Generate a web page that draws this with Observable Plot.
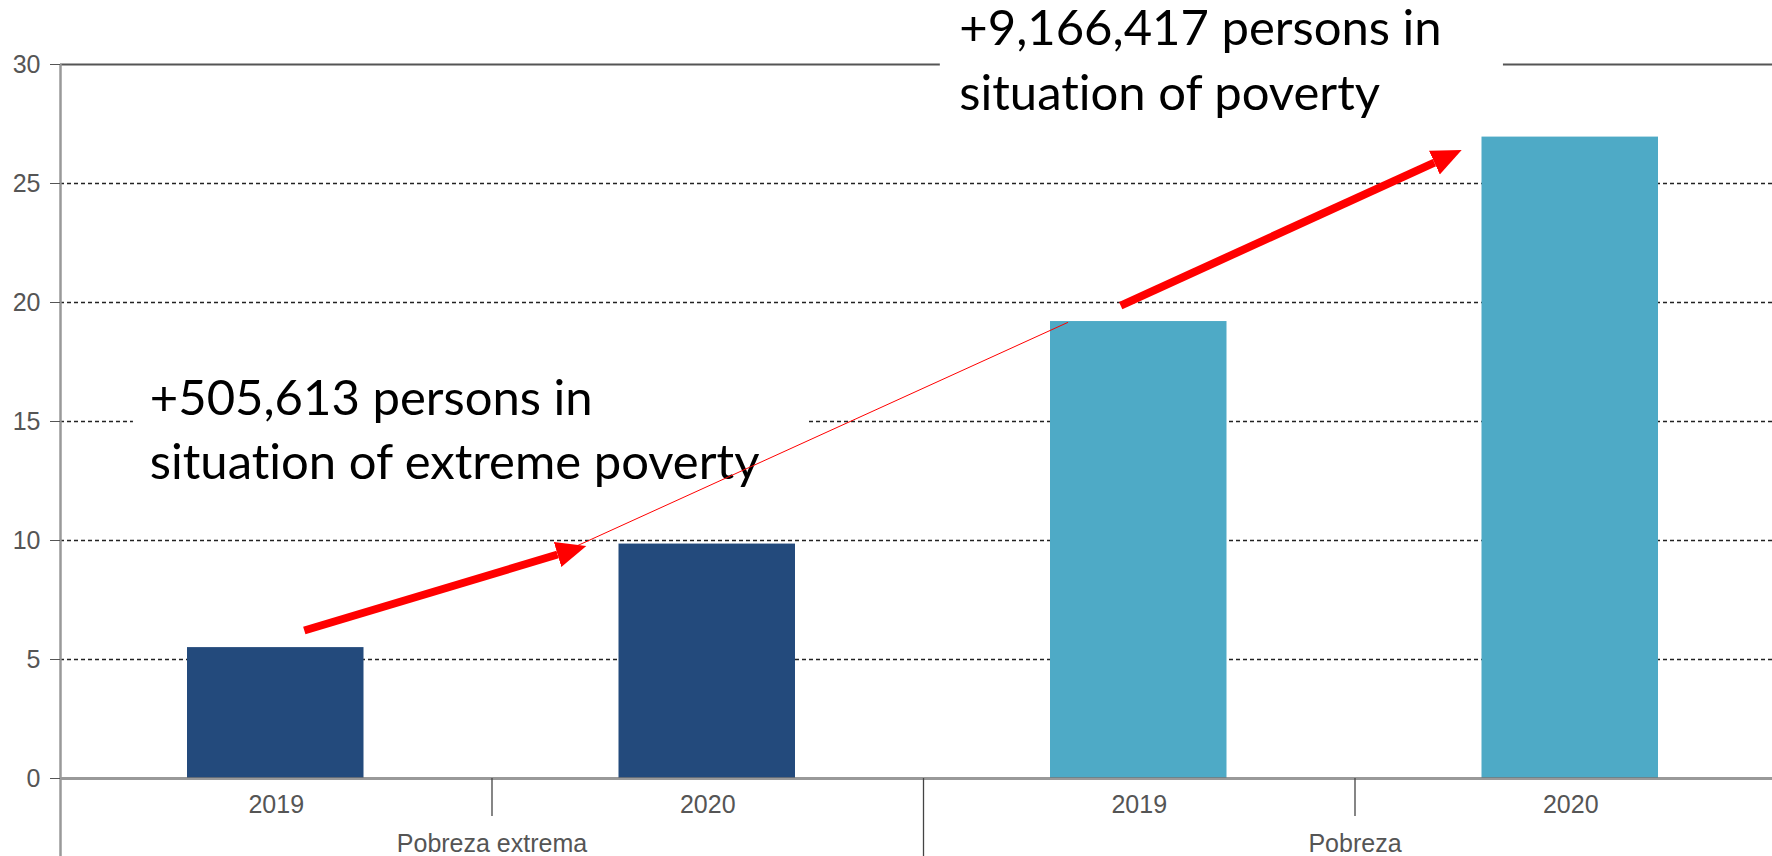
<!DOCTYPE html>
<html>
<head>
<meta charset="utf-8">
<script src="https://cdn.jsdelivr.net/npm/d3@7"></script>
<script src="https://cdn.jsdelivr.net/npm/@observablehq/plot@0.6"></script>
<style>
  html, body { margin: 0; padding: 0; background: #fff; overflow: hidden; }
  #chart svg { display: block; }
  #chart text { font-variant-ligatures: none; font-feature-settings: "liga" 0; }
</style>
</head>
<body>
<div id="chart"></div>
<script>
// ---- data ----
const years = ["2019", "2020", "2019", "2020"];
const groups = ["Pobreza extrema", "Pobreza"];
const values = [5.5, 9.85, 19.2, 26.95];
const barColors = ["#234a7c", "#234a7c", "#4eaac6", "#4eaac6"];
const yTicks = [0, 5, 10, 15, 20, 25, 30];
const gridValues = [5, 10, 15, 20, 25];
const notes = ["+505,613 persons in\nsituation of extreme poverty", "+9,166,417 persons in\nsituation of poverty"];

// table for bars: each category occupies one unit band on a linear x scale
const bars = values.map((v, i) => ({year: years[i], value: v, color: barColors[i], x1: i, x2: i + 1}));

// annotation anchors (data units)
const noteBoxes = [
  {x1: 0.169, x2: 1.729, y1: 11.55, y2: 17.77},
  {x1: 2.039, x2: 3.344, y1: 27.1, y2: 32.8}
];
const noteText = [
  {x: 0.207, y: 12.6, text: notes[0]},
  {x: 2.083, y: 28.07, text: notes[1]}
];
const arrows = [
  {x1: 0.565, y1: 6.22, x2: 1.152, y2: 9.41},
  {x1: 2.457, y1: 19.87, x2: 3.184, y2: 25.88}
];
const thinLine = [{x: 1.189, y: 9.71}, {x: 2.334, y: 19.16}];

const plot = Plot.plot({
  width: 1772,
  height: 856,
  marginLeft: 60,
  marginRight: -14,
  marginTop: 64,
  marginBottom: 78,
  style: {fontFamily: "'Liberation Sans', Arial, sans-serif", fontSize: "22px", background: "#fff", overflow: "visible"},
  x: {type: "linear", domain: [0, 4]},
  y: {domain: [0, 30]},
  marks: [
    // dashed grid
    Plot.ruleY(gridValues, {stroke: "#222", strokeWidth: 1.3, strokeDasharray: "4,3"}),
    // top solid line
    Plot.ruleY([30], {stroke: "#555", strokeWidth: 2}),
    // bars
    Plot.rectY(bars, {x1: "x1", x2: "x2", y: "value", fill: "color", insetLeft: 127, insetRight: 128}),
    // zero line
    Plot.ruleY([0], {stroke: "#777", strokeOpacity: 0.75, strokeWidth: 3}),
    // y axis line extended below
    Plot.ruleX([0], {stroke: "#999", strokeWidth: 2.5, insetBottom: -78}),
    // y axis
    Plot.axisY({ticks: yTicks, tickSize: 10, tickPadding: 10, color: "#555", fontSize: 25, tickFormat: d => String(d)}),
    // category separators
    Plot.axisX({ticks: [1, 3], tickSize: 38, tickFormat: () => "", stroke: "#444", strokeWidth: 1.3}),
    Plot.axisX({ticks: [2], tickSize: 78, tickFormat: () => "", stroke: "#444", strokeWidth: 1.3}),
    // year labels
    Plot.axisX({ticks: [0.5, 1.5, 2.5, 3.5], tickSize: 0, tickPadding: 17, tickFormat: (d) => years[Math.floor(d)], fill: "#555", fontSize: 25}),
    // group labels
    Plot.axisX({ticks: [1, 3], tickSize: 0, tickPadding: 56, tickFormat: (d) => groups[(d - 1) / 2], fill: "#555", fontSize: 25}),
    // annotation boxes
    Plot.rect(noteBoxes, {x1: "x1", x2: "x2", y1: "y1", y2: "y2", fill: "white"}),
    // annotation texts
    Plot.text([noteText[0]], {x: "x", y: "y", text: "text", textAnchor: "start", lineAnchor: "bottom", lineHeight: 1.29, fontSize: 49, fill: "#000", fontFamily: "Lato, 'Open Sans', sans-serif"}),
    Plot.text([noteText[1]], {x: "x", y: "y", text: "text", textAnchor: "start", lineAnchor: "bottom", lineHeight: 1.33, fontSize: 49, fill: "#000", fontFamily: "Lato, 'Open Sans', sans-serif"}),
    // thin red connector
    Plot.line(thinLine, {x: "x", y: "y", stroke: "red", strokeWidth: 1}),
    // thick arrows
    Plot.link(arrows, {x1: "x1", y1: "y1", x2: "x2", y2: "y2", stroke: "red", strokeWidth: 8})
  ]
});

document.getElementById("chart").appendChild(plot);

// filled arrowheads for the thick links
const svg = d3.select(plot.tagName.toLowerCase() === "svg" ? plot : plot.querySelector("svg"));
const defs = svg.insert("defs", ":first-child");
defs.append("marker")
  .attr("id", "redhead")
  .attr("markerUnits", "userSpaceOnUse")
  .attr("markerWidth", 32)
  .attr("markerHeight", 30)
  .attr("viewBox", "0 -15 32 30")
  .attr("refX", 0)
  .attr("refY", 0)
  .attr("orient", "auto")
  .append("path")
  .attr("d", "M0,-13L30,0L0,13Z")
  .attr("fill", "red");
svg.selectAll('g[aria-label="link"] path').attr("marker-end", "url(#redhead)");
</script>
</body>
</html>
